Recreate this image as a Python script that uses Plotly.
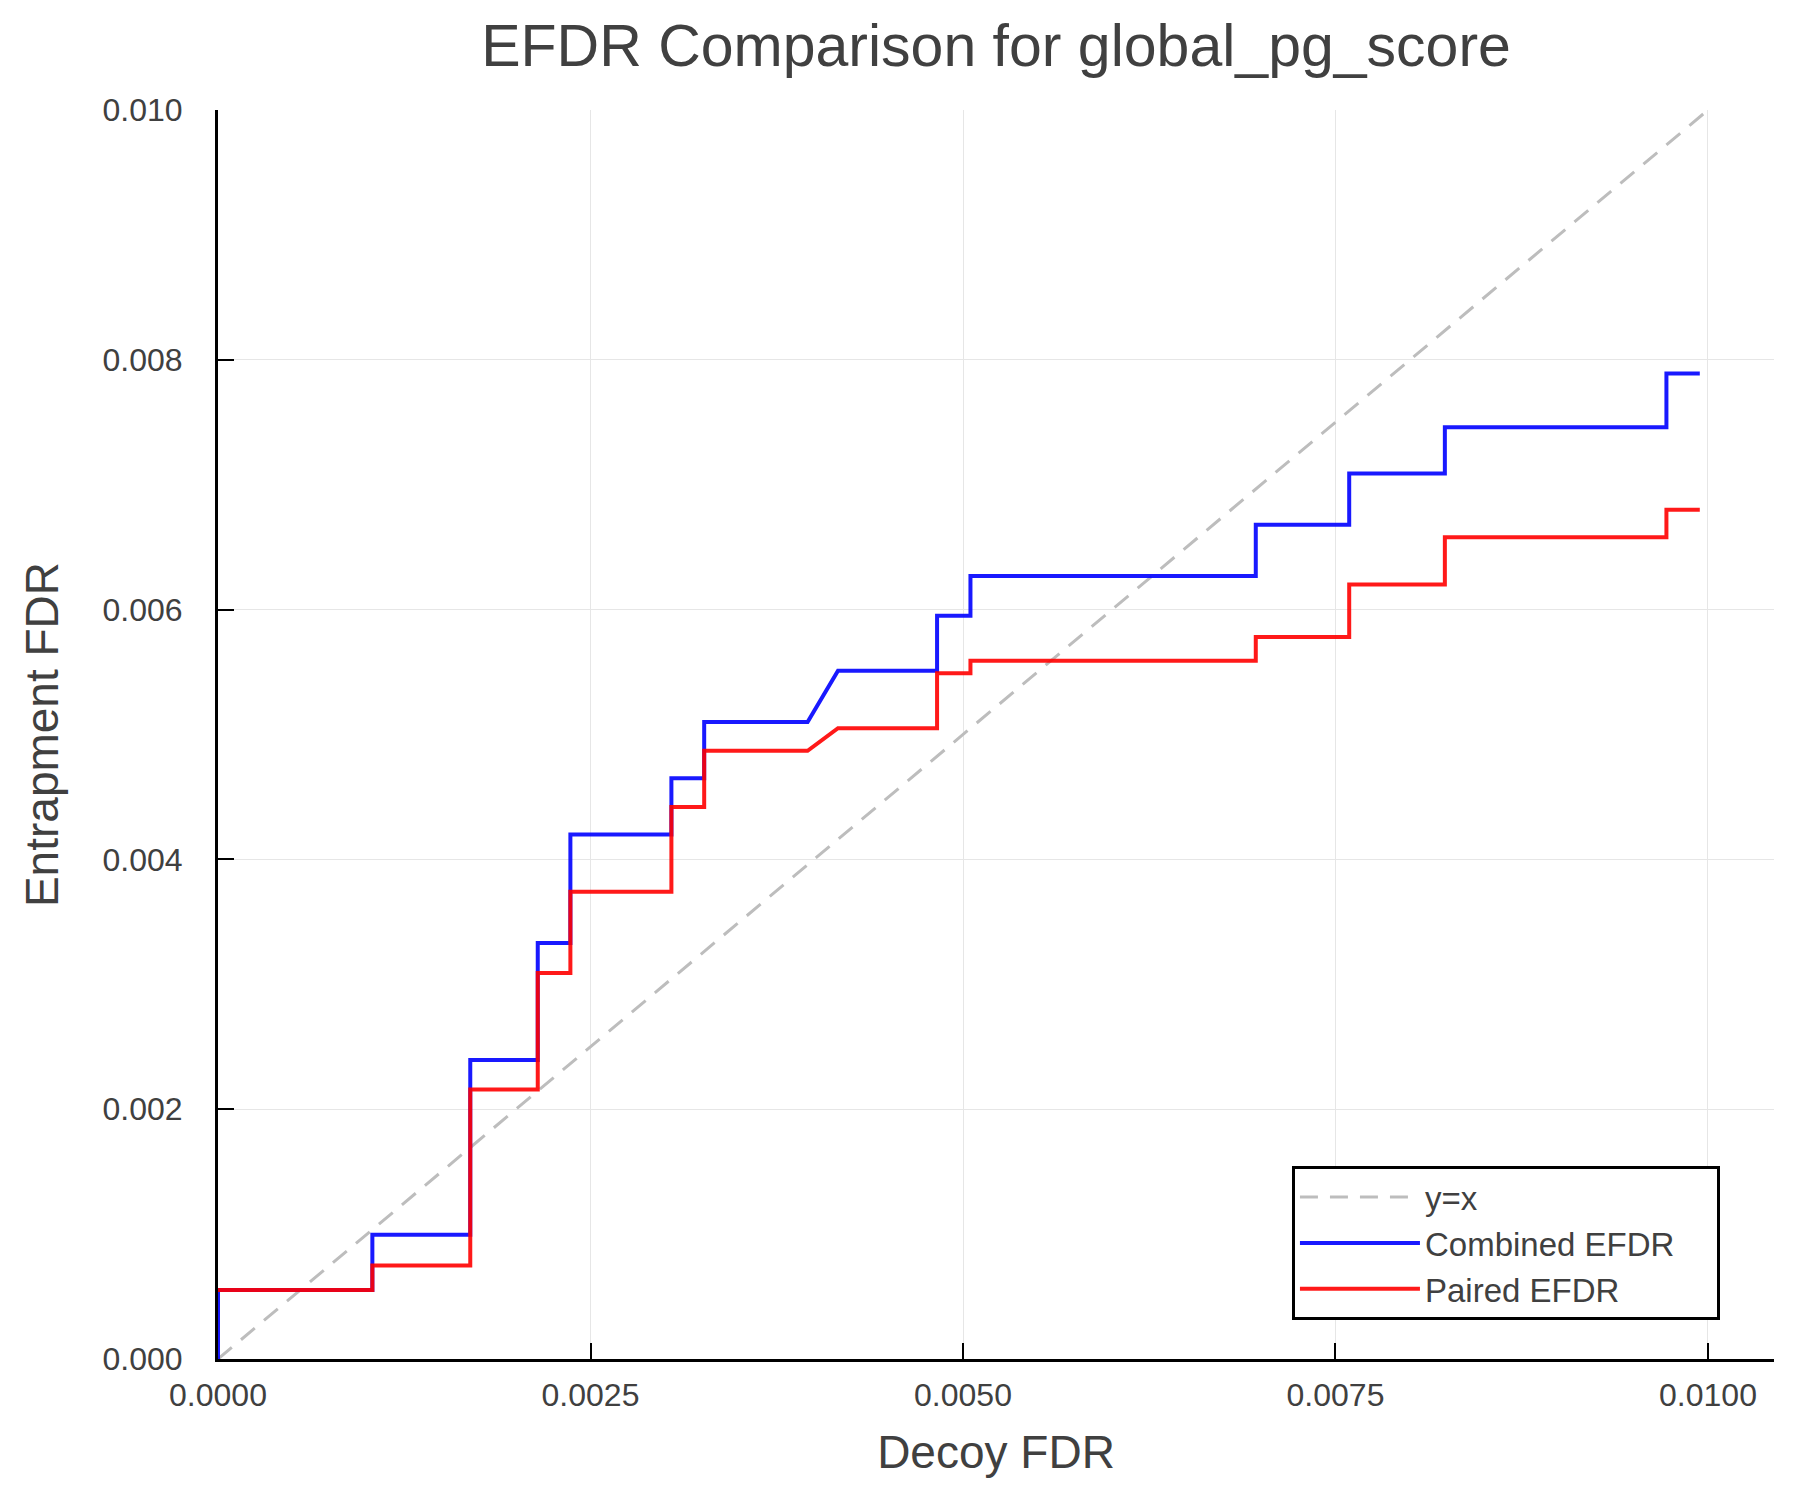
import plotly.graph_objects as go

# vertices of the two EFDR curves
decoy_fdr = [0, 0, 0.001036, 0.001036, 0.001693, 0.001693, 0.002146, 0.002146, 0.002365, 0.002365,
             0.003043, 0.003043, 0.003263, 0.003263, 0.003957, 0.004161, 0.004826, 0.004826, 0.00505, 0.00505,
             0.006965, 0.006965, 0.007592, 0.007592, 0.008234, 0.008234, 0.009721, 0.009721, 0.009945]
combined_efdr = [0, 0.000553, 0.000553, 0.000995, 0.000995, 0.002393, 0.002393, 0.00333, 0.00333, 0.0042,
                 0.0042, 0.00465, 0.00465, 0.0051, 0.0051, 0.00551, 0.00551, 0.00595, 0.00595, 0.00627,
                 0.00627, 0.00668, 0.00668, 0.00709, 0.00709, 0.00746, 0.00746, 0.00789, 0.00789]
paired_efdr = [0.000553, 0.000553, 0.000553, 0.000749, 0.000749, 0.002158, 0.002158, 0.00309, 0.00309, 0.00374,
               0.00374, 0.00442, 0.00442, 0.00487, 0.00487, 0.00505, 0.00505, 0.00549, 0.00549, 0.00559,
               0.00559, 0.00578, 0.00578, 0.0062, 0.0062, 0.00658, 0.00658, 0.0068, 0.0068]
diag = [0, 0.01]

x_ticks = [0, 0.0025, 0.005, 0.0075, 0.01]
y_ticks = [0, 0.002, 0.004, 0.006, 0.008, 0.01]

FONT = 'Liberation Sans'
TXT = '#404040'
PAD = '\u00a0' * 4  # a bit of room on the right of the legend text

fig = go.Figure()
fig.add_trace(go.Scatter(x = diag, y = diag, mode = 'lines', name = 'y=x',
  line = dict(color = '#bdbdbd', width = 3, dash = '18px,12px')))
fig.add_trace(go.Scatter(x = decoy_fdr, y = combined_efdr, mode = 'lines', name = 'Combined EFDR' + PAD,
  line = dict(color = 'rgba(0,0,255,0.9)', width = 4)))
fig.add_trace(go.Scatter(x = decoy_fdr, y = paired_efdr, mode = 'lines', name = 'Paired EFDR',
  line = dict(color = 'rgba(255,0,0,0.9)', width = 4)))

axis = dict(
  showgrid = True, gridcolor = '#e6e6e6', gridwidth = 1,
  showline = True, linecolor = 'black', linewidth = 3,
  ticks = 'inside', ticklen = 16, tickwidth = 2, tickcolor = 'black',
  zeroline = False, tickfont = dict(family = FONT, size = 32, color = TXT),
)

fig.update_layout(
  width = 1800, height = 1500,
  paper_bgcolor = 'white', plot_bgcolor = 'white',
  margin = dict(l = 210, r = 34, t = 102, b = 149),
  title = dict(text = 'EFDR Comparison for global_pg_score', xref = 'paper', x = 0.5, xanchor = 'center',
               y = 1 - 37 / 1500, yanchor = 'middle', font = dict(family = FONT, size = 59, color = TXT)),
  xaxis = dict(axis, range = [0, 0.010443], tickvals = x_ticks, tickformat = '.4f', ticklabelstandoff = 6,
               title = dict(text = 'Decoy FDR', font = dict(family = FONT, size = 46, color = TXT), standoff = 24)),
  yaxis = dict(axis, range = [0, 0.01], tickvals = y_ticks, tickformat = '.3f', ticklabelstandoff = 26,
               title = dict(text = 'Entrapment FDR', font = dict(family = FONT, size = 46, color = TXT), standoff = 30)),
  legend = dict(x = 0.6902, y = 0.1545, xanchor = 'left', yanchor = 'top',
                bgcolor = 'white', bordercolor = 'black', borderwidth = 3,
                font = dict(family = FONT, size = 33, color = TXT), itemwidth = 120),
)

fig.write_html('out.html')
